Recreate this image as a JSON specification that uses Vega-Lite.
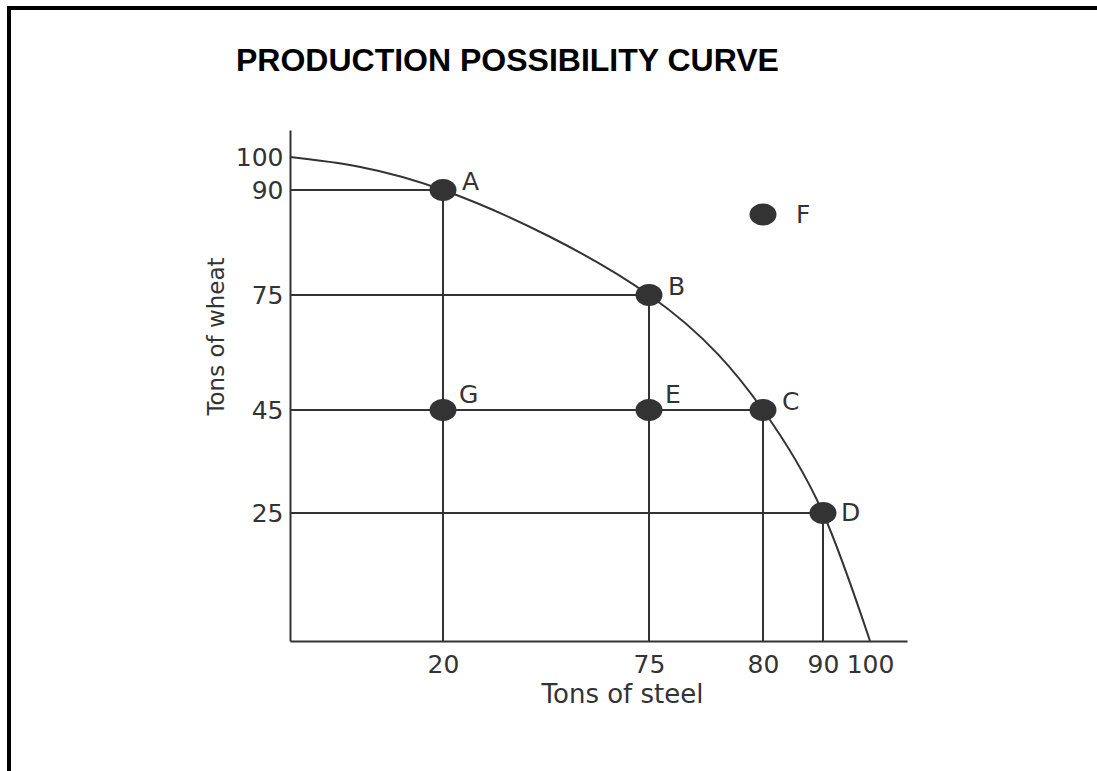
{
  "$schema": "https://vega.github.io/schema/vega-lite/v6.json",
  "width": 1100,
  "height": 800,
  "autosize": "none",
  "padding": {"left": 9, "top": 8, "right": -12, "bottom": -37},
  "background": "white",
  "title": {
    "text": "PRODUCTION POSSIBILITY CURVE",
    "anchor": "start",
    "frame": "group",
    "font": "Liberation Sans",
    "fontSize": 32,
    "fontWeight": "bold",
    "color": "black",
    "offset": -70,
    "dx": 227
  },
  "config": {
    "view": {"stroke": "black", "strokeWidth": 4},
    "font": "DejaVu Sans"
  },
  "datasets": {
    "curve": [
      {"steel": 0, "wheat": 100},
      {"steel": 20, "wheat": 90},
      {"steel": 75, "wheat": 75},
      {"steel": 80, "wheat": 45},
      {"steel": 90, "wheat": 25},
      {"steel": 100, "wheat": 0}
    ],
    "points": [
      {"label": "A", "steel": 20, "wheat": 90},
      {"label": "B", "steel": 75, "wheat": 75},
      {"label": "C", "steel": 80, "wheat": 45},
      {"label": "D", "steel": 90, "wheat": 25},
      {"label": "E", "steel": 75, "wheat": 45},
      {"label": "F", "steel": 80, "wheat": 86.5},
      {"label": "G", "steel": 20, "wheat": 45}
    ]
  },
  "encoding": {
    "x": {
      "field": "steel",
      "type": "quantitative",
      "scale": {
        "domain": [0, 20, 75, 80, 90, 100, 108],
        "range": [281, 434, 640, 754, 814, 861, 898],
        "nice": false,
        "zero": false
      },
      "axis": {
        "values": [20, 75, 80, 90, 100],
        "ticks": false,
        "tickSize": 0,
        "grid": false,
        "domainColor": "#333333",
        "domainWidth": 2,
        "labelFont": "DejaVu Sans",
        "labelFontSize": 25,
        "labelColor": "#333333",
        "labelPadding": 11,
        "labelFlush": false,
        "labelOverlap": false,
        "labelBound": false,
        "offset": -167,
        "title": "Tons of steel",
        "titleFont": "DejaVu Sans",
        "titleFontSize": 26,
        "titleFontWeight": "normal",
        "titleColor": "#333333",
        "titleX": 613,
        "titleY": 61,
        "titleAlign": "center",
        "titleBaseline": "alphabetic"
      }
    },
    "y": {
      "field": "wheat",
      "type": "quantitative",
      "scale": {
        "domain": [0, 25, 45, 75, 90, 100, 108],
        "range": [633, 505, 402, 287, 182, 149, 122],
        "nice": false,
        "zero": false
      },
      "axis": {
        "values": [25, 45, 75, 90, 100],
        "ticks": false,
        "tickSize": 0,
        "grid": false,
        "domainColor": "#333333",
        "domainWidth": 2,
        "labelFont": "DejaVu Sans",
        "labelFontSize": 25,
        "labelColor": "#333333",
        "labelPadding": 7,
        "labelFlush": false,
        "labelOverlap": false,
        "labelBound": false,
        "offset": -281,
        "title": "Tons of wheat",
        "titleFont": "DejaVu Sans",
        "titleFontSize": 23,
        "titleFontWeight": "normal",
        "titleColor": "#333333",
        "titleAngle": -90,
        "titleX": -67,
        "titleY": 328,
        "titleAlign": "center",
        "titleBaseline": "alphabetic"
      }
    }
  },
  "layer": [
    {
      "data": {"name": "curve"},
      "mark": {"type": "line", "interpolate": "natural", "color": "#333333", "strokeWidth": 2}
    },
    {
      "data": {"name": "points"},
      "transform": [{"filter": {"field": "label", "oneOf": ["A", "B", "C", "D"]}}],
      "mark": {"type": "rule", "color": "#333333", "strokeWidth": 2},
      "encoding": {
        "x": {"datum": 0, "type": "quantitative"},
        "x2": {"field": "steel"}
      }
    },
    {
      "data": {"name": "points"},
      "transform": [{"filter": {"field": "label", "oneOf": ["A", "B", "C", "D"]}}],
      "mark": {"type": "rule", "color": "#333333", "strokeWidth": 2},
      "encoding": {
        "y": {"datum": 0, "type": "quantitative"},
        "y2": {"field": "wheat"}
      }
    },
    {
      "data": {"name": "points"},
      "mark": {
        "type": "point",
        "filled": true,
        "opacity": 1,
        "color": "#333333",
        "size": 729,
        "shape": "M-1,0A1,0.815,0,1,0,1,0A1,0.815,0,1,0,-1,0Z"
      }
    },
    {
      "data": {"name": "points"},
      "transform": [{"filter": {"field": "label", "oneOf": ["A", "B", "C"]}}],
      "mark": {"type": "text", "align": "left", "baseline": "alphabetic", "dx": 19, "dy": 0, "fontSize": 25, "font": "DejaVu Sans", "color": "#333333"},
      "encoding": {"text": {"field": "label"}}
    },
    {
      "data": {"name": "points"},
      "transform": [{"filter": {"field": "label", "oneOf": ["E", "G"]}}],
      "mark": {"type": "text", "align": "left", "baseline": "alphabetic", "dx": 16, "dy": -7.5, "fontSize": 25, "font": "DejaVu Sans", "color": "#333333"},
      "encoding": {"text": {"field": "label"}}
    },
    {
      "data": {"name": "points"},
      "transform": [{"filter": {"field": "label", "equal": "D"}}],
      "mark": {"type": "text", "align": "left", "baseline": "alphabetic", "dx": 18, "dy": 8, "fontSize": 25, "font": "DejaVu Sans", "color": "#333333"},
      "encoding": {"text": {"field": "label"}}
    },
    {
      "data": {"name": "points"},
      "transform": [{"filter": {"field": "label", "equal": "F"}}],
      "mark": {"type": "text", "align": "left", "baseline": "alphabetic", "dx": 33, "dy": 8, "fontSize": 25, "font": "DejaVu Sans", "color": "#333333"},
      "encoding": {"text": {"field": "label"}}
    }
  ]
}
